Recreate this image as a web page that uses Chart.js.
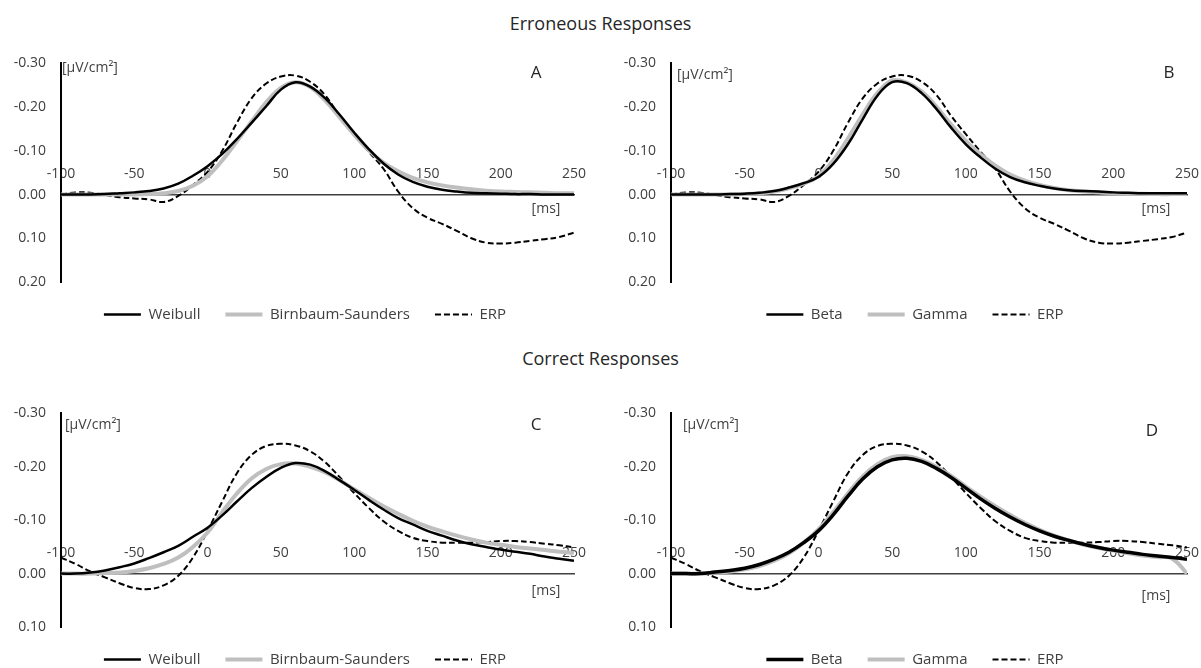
<!DOCTYPE html>
<html>
<head>
<meta charset="utf-8">
<script src="https://cdn.jsdelivr.net/npm/chart.js@4.4.1/dist/chart.umd.min.js"></script>
<style>
    html, body { margin: 0; padding: 0; background: #fff; overflow: hidden; }
    body { width: 1201px; height: 668px; position: relative; font-family: "Open Sans", sans-serif; }
    .section-title { position: absolute; left: 0; width: 1201px; text-align: center; font-size: 18px; line-height: 24px; color: #262626; }
    .panel { position: absolute; }
</style>
</head>
<body>
<div class="section-title" style="top: 11px;">Erroneous Responses</div>
<div class="section-title" style="top: 346px;">Correct Responses</div>

<div class="panel" style="left: 0; top: 40px; width: 600px; height: 292px;"><canvas id="chartA"></canvas></div>
<div class="panel" style="left: 600px; top: 40px; width: 610px; height: 292px;"><canvas id="chartB"></canvas></div>
<div class="panel" style="left: 0; top: 390px; width: 600px; height: 287px;"><canvas id="chartC"></canvas></div>
<div class="panel" style="left: 600px; top: 390px; width: 610px; height: 287px;"><canvas id="chartD"></canvas></div>

<script>
// Time points (ms) shared by every curve
const timeMs = [-100, -90, -80, -70, -60, -50, -40, -30, -20, -10, 0, 10, 20, 30, 40, 50, 60, 70,
    80, 90, 100, 110, 120, 130, 140, 150, 160, 170, 180, 190, 200, 210, 220, 230, 240, 250];

// Tick labels
const xTickValues = [-100, -50, 0, 50, 100, 150, 200, 250];
const yTicksErr = [-0.3, -0.2, -0.1, 0, 0.1, 0.2];
const yTicksCor = [-0.3, -0.2, -0.1, 0, 0.1];

// Erroneous responses [µV/cm²]
const errWeibull = [0, 0, 0, -0.001, -0.003, -0.005, -0.008, -0.014, -0.025, -0.043, -0.065, -0.093, -0.127, -0.164, -0.202, -0.240, -0.257, -0.247,
    -0.221, -0.183, -0.142, -0.104, -0.071, -0.046, -0.029, -0.018, -0.011, -0.007, -0.004, -0.003, -0.002, -0.001, -0.001, 0, 0, 0];
const errBirnbaum = [0, 0, 0, 0, 0, 0, -0.001, -0.003, -0.008, -0.020, -0.042, -0.078, -0.122, -0.167, -0.211, -0.244, -0.257, -0.246,
    -0.216, -0.177, -0.137, -0.101, -0.073, -0.053, -0.038, -0.028, -0.021, -0.016, -0.012, -0.009, -0.007, -0.006, -0.005, -0.004, -0.003, -0.003];
const errBeta = [0, 0, 0, 0, -0.001, -0.002, -0.004, -0.008, -0.016, -0.026, -0.040, -0.070, -0.115, -0.172, -0.226, -0.257, -0.255, -0.232,
    -0.196, -0.153, -0.115, -0.085, -0.059, -0.040, -0.028, -0.020, -0.014, -0.010, -0.008, -0.007, -0.005, -0.004, -0.003, -0.003, -0.003, -0.003];
const errGamma = [0, 0, 0, 0, 0, -0.001, -0.003, -0.007, -0.014, -0.025, -0.042, -0.078, -0.128, -0.183, -0.232, -0.261, -0.256, -0.236,
    -0.201, -0.160, -0.123, -0.092, -0.066, -0.046, -0.032, -0.022, -0.015, -0.010, -0.007, -0.005, -0.003, -0.002, -0.002, -0.001, -0.001, -0.001];
const errERP = [0, -0.005, -0.004, 0.001, 0.006, 0.009, 0.011, 0.017, 0.003, -0.022, -0.052, -0.100, -0.164, -0.220, -0.254, -0.270, -0.272, -0.258,
    -0.228, -0.180, -0.138, -0.098, -0.059, -0.007, 0.031, 0.053, 0.067, 0.083, 0.100, 0.110, 0.112, 0.110, 0.106, 0.102, 0.097, 0.087];

// Correct responses [µV/cm²]
const corWeibull = [0, 0, -0.002, -0.006, -0.012, -0.019, -0.029, -0.040, -0.052, -0.069, -0.086, -0.109, -0.135, -0.160, -0.181, -0.198, -0.207, -0.204,
    -0.192, -0.175, -0.157, -0.138, -0.120, -0.104, -0.092, -0.080, -0.071, -0.062, -0.055, -0.050, -0.045, -0.041, -0.037, -0.032, -0.028, -0.024];
const corBirnbaum = [0, 0, 0, -0.001, -0.002, -0.005, -0.010, -0.018, -0.030, -0.050, -0.077, -0.115, -0.150, -0.178, -0.196, -0.205, -0.206, -0.200,
    -0.190, -0.175, -0.158, -0.142, -0.126, -0.112, -0.099, -0.088, -0.079, -0.071, -0.064, -0.058, -0.054, -0.050, -0.047, -0.044, -0.041, -0.039];
const corBeta = [0, 0, 0, -0.003, -0.006, -0.010, -0.017, -0.027, -0.040, -0.058, -0.080, -0.110, -0.145, -0.177, -0.200, -0.213, -0.216, -0.210,
    -0.197, -0.180, -0.160, -0.140, -0.122, -0.106, -0.092, -0.080, -0.070, -0.062, -0.055, -0.049, -0.044, -0.040, -0.036, -0.033, -0.030, -0.027];
const corGamma = [0, 0, 0, -0.002, -0.004, -0.008, -0.014, -0.024, -0.038, -0.058, -0.083, -0.115, -0.150, -0.182, -0.205, -0.218, -0.220, -0.213,
    -0.200, -0.183, -0.163, -0.144, -0.126, -0.110, -0.095, -0.082, -0.071, -0.062, -0.054, -0.048, -0.043, -0.038, -0.034, -0.031, -0.028, 0];
const corERP = [-0.030, -0.018, -0.004, 0.007, 0.018, 0.027, 0.029, 0.022, 0.004, -0.030, -0.080, -0.135, -0.188, -0.222, -0.239, -0.243, -0.240, -0.229,
    -0.209, -0.181, -0.151, -0.123, -0.098, -0.080, -0.067, -0.061, -0.058, -0.058, -0.058, -0.059, -0.061, -0.061, -0.059, -0.056, -0.053, -0.049];

Chart.defaults.font.family = '"Open Sans", sans-serif';

// Line styles
const blackLine = { borderColor: '#000000', borderWidth: 2.5 };
const grayLine = { borderColor: '#bfbfbf', borderWidth: 4 };
const dashedLine = { borderColor: '#000000', borderWidth: 2, borderDash: [6, 3] };

function makeSeries(label, values, style) {
    return Object.assign({
        label: label,
        data: timeMs.map((t, i) => ({ x: t, y: values[i] })),
        pointRadius: 0,
        pointHoverRadius: 0,
        tension: 0.4,
        fill: false
    }, style);
}

// Legend entries drawn with each dataset's own stroke (width, colour, dash)
function legendLabels(chart) {
    return Chart.defaults.plugins.legend.labels.generateLabels(chart).map(item => {
        const ds = chart.data.datasets[item.datasetIndex];
        item.lineDash = ds.borderDash || [];
        item.lineWidth = ds.borderWidth;
        item.strokeStyle = ds.borderColor;
        item.lineCap = 'butt';
        return item;
    });
}

// Unit labels and panel letter, placed relative to the chart area
const panelLabels = {
    id: 'panelLabels',
    afterDraw(chart, args, opts) {
        const { ctx, chartArea, scales } = chart;
        const zeroY = scales.y.getPixelForValue(0);
        ctx.save();
        ctx.fillStyle = '#404040';
        ctx.textBaseline = 'middle';
        ctx.font = '14px "Open Sans"';
        ctx.textAlign = 'left';
        ctx.fillText('[μV/cm²]', chartArea.left + opts.unitDx, chartArea.top + opts.unitDy);
        ctx.textAlign = 'center';
        ctx.fillText('[ms]', chartArea.right + opts.msDx, zeroY + opts.msDy);
        ctx.fillStyle = '#262626';
        ctx.font = '17px "Open Sans"';
        ctx.fillText(opts.letter, chartArea.right + opts.letterDx, chartArea.top + opts.letterDy);
        ctx.restore();
    }
};

function buildPanel(canvasId, datasets, yTicks, geom) {
    return new Chart(document.getElementById(canvasId), {
        type: 'line',
        data: { datasets: datasets },
        options: {
            responsive: true,
            maintainAspectRatio: false,
            animation: false,
            layout: { padding: { top: 20, left: geom.padLeft, right: 0, bottom: 0 } },
            scales: {
                x: {
                    type: 'linear',
                    min: -100,
                    max: 250,
                    position: { y: 0 },
                    afterFit: s => { s.height = 0; },
                    afterBuildTicks: s => { s.ticks = xTickValues.map(v => ({ value: v })); },
                    grid: { display: false, drawTicks: false },
                    border: { display: true, color: '#404040', width: 1.5 },
                    ticks: { padding: -29, color: '#404040', font: { size: 14 }, maxRotation: 0, autoSkip: false }
                },
                y: {
                    reverse: true,
                    min: yTicks[0],
                    max: yTicks[yTicks.length - 1],
                    afterFit: s => { s.width = geom.axisWidth; },
                    afterBuildTicks: s => { s.ticks = yTicks.map(v => ({ value: v })); },
                    grid: { display: false, drawTicks: false },
                    border: { display: true, color: '#000000', width: 2 },
                    ticks: { padding: 15, color: '#404040', font: { size: 14 }, callback: v => v.toFixed(2) }
                },
                // empty right-hand spacer so the legend sits where it does in the figure
                spacer: {
                    type: 'linear',
                    position: 'right',
                    afterFit: s => { s.width = geom.spacerWidth; },
                    grid: { display: false, drawTicks: false },
                    border: { display: false },
                    ticks: { display: false }
                }
            },
            plugins: {
                legend: {
                    position: 'bottom',
                    labels: {
                        usePointStyle: true,
                        pointStyle: 'line',
                        pointStyleWidth: 37,
                        padding: 25,
                        color: '#404040',
                        font: { size: 15 },
                        generateLabels: legendLabels
                    }
                },
                tooltip: { enabled: false },
                panelLabels: geom.labels
            }
        },
        plugins: [panelLabels]
    });
}

buildPanel('chartA', [
    makeSeries('Weibull', errWeibull, blackLine),
    makeSeries('Birnbaum-Saunders', errBirnbaum, grayLine),
    makeSeries('ERP', errERP, dashedLine)
], yTicksErr, { padLeft: 10, axisWidth: 51, spacerWidth: 26,
    labels: { letter: 'A', unitDx: 1, unitDy: 5, msDx: -28, msDy: 14, letterDx: -38, letterDy: 10 } });

buildPanel('chartB', [
    makeSeries('Beta', errBeta, blackLine),
    makeSeries('Gamma', errGamma, grayLine),
    makeSeries('ERP', errERP, dashedLine)
], yTicksErr, { padLeft: 20, axisWidth: 51, spacerWidth: 23,
    labels: { letter: 'B', unitDx: 6, unitDy: 12, msDx: -31, msDy: 14, letterDx: -18, letterDy: 10 } });

buildPanel('chartC', [
    makeSeries('Weibull', corWeibull, blackLine),
    makeSeries('Birnbaum-Saunders', corBirnbaum, grayLine),
    makeSeries('ERP', corERP, dashedLine)
], yTicksCor, { padLeft: 10, axisWidth: 51, spacerWidth: 26,
    labels: { letter: 'C', unitDx: 4, unitDy: 12, msDx: -28, msDy: 17, letterDx: -38, letterDy: 12 } });

buildPanel('chartD', [
    makeSeries('Beta', corBeta, { borderColor: '#000000', borderWidth: 3.5 }),
    makeSeries('Gamma', corGamma, grayLine),
    makeSeries('ERP', corERP, dashedLine)
], yTicksCor, { padLeft: 20, axisWidth: 51, spacerWidth: 23,
    labels: { letter: 'D', unitDx: 12, unitDy: 12, msDx: -31, msDy: 22, letterDx: -35, letterDy: 18 } });
</script>
</body>
</html>
